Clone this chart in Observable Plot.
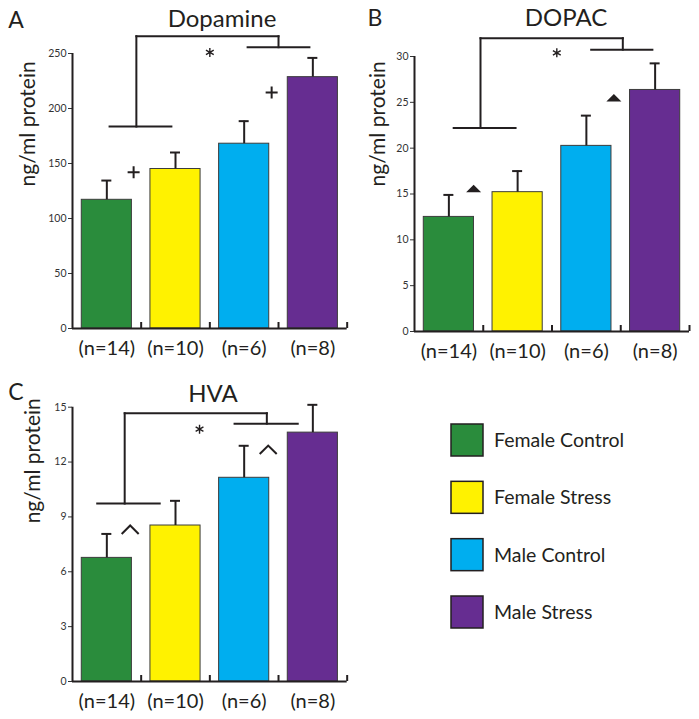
<!DOCTYPE html>
<html><head><meta charset="utf-8">
<script src="https://cdn.jsdelivr.net/npm/d3@7"></script>
<script src="https://cdn.jsdelivr.net/npm/@observablehq/plot@0.6"></script>
<style>
body{margin:0;background:#fff;}
#fig{position:relative;width:699px;height:719px;overflow:hidden;background:#fff;font-family:Lato,"Open Sans",sans-serif;}
#fig > svg{position:absolute;}
</style></head><body><div id="fig"></div>
<script>
// ---------- data ----------
const groups = ["Female Control", "Female Stress", "Male Control", "Male Stress"];
const nLabels = ["(n=14)", "(n=10)", "(n=6)", "(n=8)"];
const colors = ["#2a8c3c", "#fff200", "#00aeef", "#662d91"];

const dopamineMean = [117, 145, 168, 228.5];
const dopamineSem = [17.5, 15, 20.5, 17.5];
const dopamineTicks = [0, 50, 100, 150, 200, 250];

const dopacMean = [12.5, 15.2, 20.25, 26.35];
const dopacSem = [2.4, 2.3, 3.3, 2.9];
const dopacTicks = [0, 5, 10, 15, 20, 25, 30];

const hvaMean = [6.76, 8.53, 11.14, 13.61];
const hvaSem = [1.31, 1.35, 1.75, 1.52];
const hvaTicks = [0, 3, 6, 9, 12, 15];

// significance brackets (x in group-slot units, y in data units)
const dopamineBracket = {leftSpan: [0.54, 1.44], leftY: 183.6, leftStem: 0.93, rightSpan: [2.55, 3.45], rightY: 255.7, rightStem: 3.0, topY: 265.7};
const dopacBracket = {leftSpan: [0.57, 1.47], leftY: 22.2, leftStem: 0.96, rightSpan: [2.57, 3.46], rightY: 30.75, rightStem: 3.03, topY: 32.0};
const hvaBracket = {leftSpan: [0.36, 1.27], leftY: 9.73, leftStem: 0.76, rightSpan: [2.36, 3.28], rightY: 14.1, rightStem: 2.83, topY: 14.67};

const dopamineStar = [[2.0, 251]];
const dopacStar = [[2.07, 30.4]];
const hvaStar = [[1.85, 13.8]];

const dopamineMarkers = [[0.89, 142], [2.9, 214.5]];   // "+"
const dopacMarkers = [[0.86, 15.6], [2.9, 25.5]];      // filled triangle
const hvaMarkers = [[0.84, 8.3], [2.85, 12.67]];       // "^"

// ---------- symbols ----------
const plusSym = {draw(ctx, size) { const r = Math.sqrt(size / Math.PI); ctx.moveTo(-r, 0); ctx.lineTo(r, 0); ctx.moveTo(0, -r); ctx.lineTo(0, r); }};
const triSym = {draw(ctx, size) { const r = Math.sqrt(size / Math.PI); const h = r * 0.5; ctx.moveTo(-r, h); ctx.lineTo(r, h); ctx.lineTo(0, -h); ctx.closePath(); }};
const caretSym = {draw(ctx, size) { const r = Math.sqrt(size / Math.PI); const h = r * 0.5; ctx.moveTo(-r, h); ctx.lineTo(0, -h); ctx.lineTo(r, h); }};
const starSym = {draw(ctx, size) {
  const r = Math.sqrt(size / Math.PI);
  for (let k = 0; k < 3; k++) {
    const a = Math.PI / 2 + k * Math.PI / 3;
    ctx.moveTo(r * Math.cos(a), r * Math.sin(a));
    ctx.lineTo(-r * Math.cos(a), -r * Math.sin(a));
  }
}};

const FONT = 'Lato, "Open Sans", sans-serif';
const INK = "#231f20";

function panel(cfg) {
  const {mean, sem, ticks, bracket, star, markers, markerType, layout} = cfg;
  const {width, height, marginLeft, marginTop, marginBottom, step, yMax, labelDx, labelDy} = layout;
  const marginRight = width - marginLeft - 4 * step;
  const rows = groups.map((g, i) => ({group: g, i, n: nLabels[i], mean: mean[i], sem: sem[i]}));
  const frameH = height - marginTop - marginBottom;
  const pad = 0.135;
  const cap = 5 / step;
  const sepH = yMax * 6 / frameH;
  const segs = [
    {x1: bracket.leftSpan[0], x2: bracket.leftSpan[1], y1: bracket.leftY, y2: bracket.leftY},
    {x1: bracket.leftStem, x2: bracket.leftStem, y1: bracket.leftY, y2: bracket.topY},
    {x1: bracket.leftStem, x2: bracket.rightStem, y1: bracket.topY, y2: bracket.topY},
    {x1: bracket.rightStem, x2: bracket.rightStem, y1: bracket.topY, y2: bracket.rightY},
    {x1: bracket.rightSpan[0], x2: bracket.rightSpan[1], y1: bracket.rightY, y2: bracket.rightY}
  ];
  let markerMark;
  if (markerType === "plus") markerMark = Plot.dot(markers, {x: d => d[0], y: d => d[1], symbol: plusSym, r: 6, stroke: INK, strokeWidth: 2, fill: "none"});
  else if (markerType === "tri") markerMark = Plot.dot(markers, {x: d => d[0], y: d => d[1], symbol: triSym, r: 7.5, fill: INK, stroke: "none"});
  else markerMark = Plot.dot(markers, {x: d => d[0], y: d => d[1], symbol: caretSym, r: 8.5, stroke: INK, strokeWidth: 2, fill: "none"});

  return Plot.plot({
    width, height, marginLeft, marginRight, marginTop, marginBottom,
    style: {fontFamily: FONT, fontSize: "10.5px", color: "#333", background: "transparent", overflow: "visible"},
    x: {domain: [0, 4], axis: null},
    y: {domain: [0, yMax], ticks, tickSize: 4, tickPadding: 2, label: null},
    color: {domain: groups, range: colors},
    marks: [
      Plot.rectY(rows, {x1: d => d.i + pad, x2: d => d.i + 1 - pad, y1: 0, y2: "mean", fill: "group", stroke: "#3c3c3c", strokeWidth: 1}),
      Plot.ruleX(rows, {x: d => d.i + 0.5, y1: "mean", y2: d => d.mean + d.sem, stroke: INK, strokeWidth: 2}),
      Plot.ruleY(rows, {y: d => d.mean + d.sem, x1: d => d.i + 0.5 - cap, x2: d => d.i + 0.5 + cap, stroke: INK, strokeWidth: 2}),
      Plot.ruleY([0], {stroke: INK, strokeWidth: 2}),
      Plot.ruleX([0], {y1: 0, y2: yMax, stroke: INK, strokeWidth: 2}),
      Plot.ruleX([1, 2, 3, 4], {y1: 0, y2: sepH, stroke: INK, strokeWidth: 2}),
      Plot.text(rows, {x: d => d.i + 0.5, y: 0, text: "n", dy: 20, fontSize: 20, fill: INK}),
      Plot.link(segs, {x1: "x1", x2: "x2", y1: "y1", y2: "y2", stroke: INK, strokeWidth: 2, strokeLinecap: "square"}),
      Plot.dot(star, {x: d => d[0], y: d => d[1], symbol: starSym, r: 4.5, stroke: INK, strokeWidth: 1.4, fill: "none"}),
      markerMark,
      Plot.text(["ng/ml protein"], {frameAnchor: "left", rotate: -90, dx: labelDx, dy: labelDy, fontSize: 21, fill: INK})
    ]
  });
}

const fig = document.getElementById("fig");
const specs = [
  {mean: dopamineMean, sem: dopamineSem, ticks: dopamineTicks, bracket: dopamineBracket, star: dopamineStar, markers: dopamineMarkers, markerType: "plus",
   layout: {left: 0, top: 0, width: 350, height: 360, marginLeft: 72, marginTop: 53, marginBottom: 32, step: 68.67, yMax: 250, labelDx: -44, labelDy: -4.5}},
  {mean: dopacMean, sem: dopacSem, ticks: dopacTicks, bracket: dopacBracket, star: dopacStar, markers: dopacMarkers, markerType: "tri",
   layout: {left: 350, top: 0, width: 344, height: 360, marginLeft: 64, marginTop: 56, marginBottom: 29, step: 68.75, yMax: 30, labelDx: -36, labelDy: -7.5}},
  {mean: hvaMean, sem: hvaSem, ticks: hvaTicks, bracket: hvaBracket, star: hvaStar, markers: hvaMarkers, markerType: "caret",
   layout: {left: 0, top: 360, width: 350, height: 359, marginLeft: 72, marginTop: 46.7, marginBottom: 38, step: 68.67, yMax: 15, labelDx: -39, labelDy: -21}}
];
for (const s of specs) {
  const svg = panel(s);
  svg.style.left = s.layout.left + "px";
  svg.style.top = s.layout.top + "px";
  fig.appendChild(svg);
}

// ---------- titles, panel letters, legend ----------
const titles = [
  {letter: "A", lx: 16, ly: 20, title: "Dopamine", tx: 222, ty: 18},
  {letter: "B", lx: 375, ly: 18, title: "DOPAC", tx: 566, ty: 17},
  {letter: "C", lx: 16, ly: 392, title: "HVA", tx: 213, ty: 393.5}
];
const over = d3.create("svg").attr("width", 699).attr("height", 719)
  .style("left", "0px").style("top", "0px").style("pointer-events", "none")
  .attr("font-family", FONT).attr("fill", INK);
for (const t of titles) {
  over.append("text").attr("x", t.lx).attr("y", t.ly + 8).attr("text-anchor", "middle").attr("font-size", 23).text(t.letter);
  over.append("text").attr("x", t.tx).attr("y", t.ty + 8.5).attr("text-anchor", "middle").attr("font-size", 24).text(t.title);
}
const legY = d3.scalePoint().domain(groups).range([440, 612]);
const leg = over.append("g");
groups.forEach((g, i) => {
  leg.append("rect").attr("x", 451).attr("y", legY(g) - 16).attr("width", 32).attr("height", 32)
    .attr("fill", colors[i]).attr("stroke", INK).attr("stroke-width", 1.5);
  leg.append("text").attr("x", 494).attr("y", legY(g) + 7).attr("font-size", 19.5).text(g);
});
fig.appendChild(over.node());
</script></body></html>
